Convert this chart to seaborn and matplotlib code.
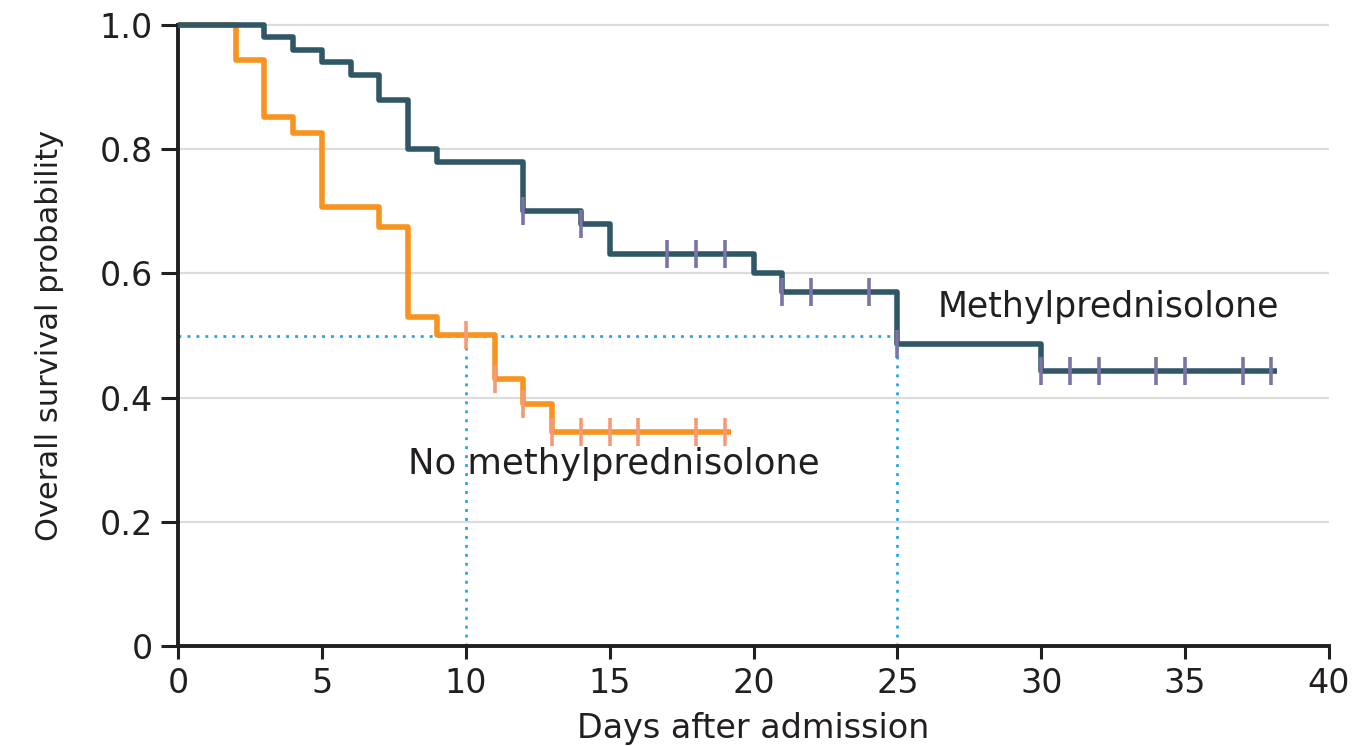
import numpy as np
import pandas as pd
import matplotlib
matplotlib.use("Agg")
import matplotlib.pyplot as plt
import seaborn as sns

# ---- data ----
mp_times = [0, 3, 4, 5, 6, 7, 8, 9, 12, 14, 15, 20, 21, 25, 30, 38.2]
mp_surv = [1.0, 0.98, 0.96, 0.94, 0.92, 0.88, 0.80, 0.78, 0.70, 0.68, 0.632,
           0.60, 0.57, 0.486, 0.443, 0.443]
mp_censor = [12, 14, 17, 18, 19, 21, 22, 24, 25, 30, 31, 32, 34, 35, 37, 38]

no_times = [0, 2, 3, 4, 5, 7, 8, 9, 11, 12, 13, 19.2]
no_surv = [1.0, 0.944, 0.852, 0.826, 0.707, 0.675, 0.530, 0.501, 0.430,
           0.390, 0.345, 0.345]
no_censor = [10, 11, 12, 13, 14, 15, 16, 18, 19]

median_mp = 25
median_no = 10

x_ticks = [0, 5, 10, 15, 20, 25, 30, 35, 40]
y_ticks = [0, 0.2, 0.4, 0.6, 0.8, 1.0]
y_ticklabels = ["0", "0.2", "0.4", "0.6", "0.8", "1.0"]

DARK = "#2F5766"
ORANGE = "#F7931E"
DARK_MARK = "#7B74A6"
ORANGE_MARK = "#F59A78"
BLUE = "#1BA3E2"
TEXT = "#231F20"


def step_value(times, surv, t):
    idx = np.searchsorted(np.array(times), t, side="right") - 1
    return surv[idx]


sns.set_theme(style="white")
plt.rcParams["font.family"] = ["DejaVu Sans"]

fig = plt.figure(figsize=(13.57, 7.46), dpi=100)
ax = fig.add_axes([0.1312, 0.134, 0.8482, 0.8325])

# gridlines
for yv in y_ticks[1:]:
    ax.axhline(yv, color="#DCDCDC", lw=1.6, zorder=0)

# median reference lines
dots = (0, (1.1, 2.3))
ax.plot([0, median_mp], [0.5, 0.5], color=BLUE, lw=1.9, linestyle=dots, zorder=1)
ax.plot([median_no, median_no], [0, 0.5], color=BLUE, lw=1.9, linestyle=dots, zorder=1)
ax.plot([median_mp, median_mp], [0, 0.5], color=BLUE, lw=1.9, linestyle=dots, zorder=1)

df_mp = pd.DataFrame({"t": mp_times, "s": mp_surv})
df_no = pd.DataFrame({"t": no_times, "s": no_surv})
sns.lineplot(data=df_no, x="t", y="s", ax=ax, color=ORANGE, linewidth=4.0,
             drawstyle="steps-post", estimator=None, sort=False, zorder=3)
sns.lineplot(data=df_mp, x="t", y="s", ax=ax, color=DARK, linewidth=4.0,
             drawstyle="steps-post", estimator=None, sort=False, zorder=4)
for line in ax.lines:
    line.set_clip_on(False)
    line.set_solid_capstyle("butt")

cen_mp = pd.DataFrame({"t": mp_censor,
                       "s": [step_value(mp_times, mp_surv, t) for t in mp_censor]})
cen_no = pd.DataFrame({"t": no_censor,
                       "s": [step_value(no_times, no_surv, t) for t in no_censor]})
sns.scatterplot(data=cen_no, x="t", y="s", ax=ax, marker="|", s=420,
                color=ORANGE_MARK, linewidth=2.6, zorder=5)
sns.scatterplot(data=cen_mp, x="t", y="s", ax=ax, marker="|", s=420,
                color=DARK_MARK, linewidth=2.6, zorder=5)

ax.text(26.4, 0.546, "Methylprednisolone", fontsize=25, color=TEXT,
        va="center", ha="left")
ax.text(8.0, 0.293, "No methylprednisolone", fontsize=25.5, color=TEXT,
        va="center", ha="left")

ax.set_xlim(0, 40)
ax.set_ylim(0, 1.0)
ax.set_xticks(x_ticks)
ax.set_xticklabels([str(v) for v in x_ticks])
ax.set_yticks(y_ticks)
ax.set_yticklabels(y_ticklabels)
ax.tick_params(axis="y", which="major", direction="out", length=12, width=2.2,
               color=TEXT, labelsize=24, labelcolor=TEXT, pad=6, left=True)
ax.tick_params(axis="x", which="major", direction="out", length=9, width=2.2,
               color=TEXT, labelsize=24, labelcolor=TEXT, pad=6, bottom=True)
ax.set_xlabel("Days after admission", fontsize=24, color=TEXT, labelpad=9)
ax.set_ylabel("Overall survival probability", fontsize=22, color=TEXT, labelpad=26)

sns.despine(ax=ax)
for side in ["left", "bottom"]:
    ax.spines[side].set_color(TEXT)
    ax.spines[side].set_linewidth(2.8)
ax.grid(False)

fig.savefig("out.png", dpi=100)
